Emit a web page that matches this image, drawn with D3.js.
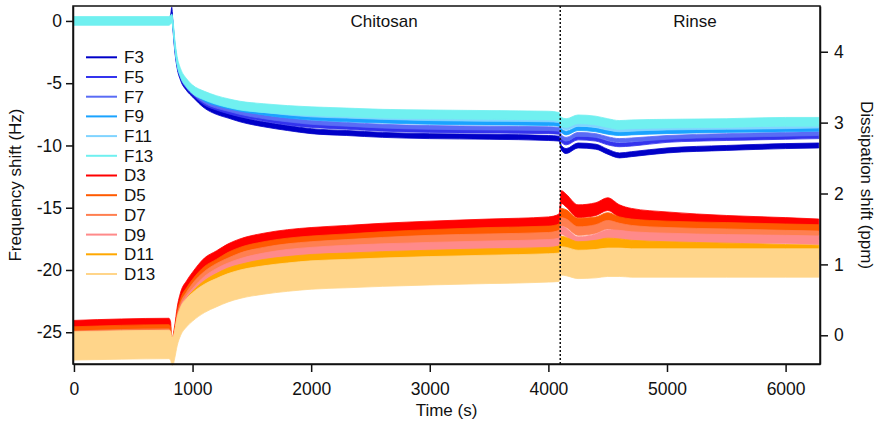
<!DOCTYPE html>
<html>
<head>
<meta charset="utf-8">
<script src="https://cdn.jsdelivr.net/npm/d3@7"></script>
<style>
  body { margin: 0; background: #fff; }
  svg text { font-family: "Liberation Sans", Arial, sans-serif; font-size: 17px; fill: #111; }
  svg .tick text { font-size: 17.5px; }
</style>
</head>
<body>
<div class="chart"></div>
<script>
var time = [0, 800, 815, 825, 835, 850, 870, 900, 950, 1000, 1100, 1200, 1300, 1400, 1600, 1800, 2000,
  2300, 2600, 3000, 3500, 4000, 4090, 4110, 4150, 4250, 4400, 4500, 4600, 4700, 5000, 5500, 6000, 6280];

// frequency shifts (Hz), left axis
var f3 = [0, 0, 0.3, 0.9, -0.5, -2.2, -3.6, -4.6, -5.4, -5.9, -6.8, -7.3, -7.6, -7.9, -8.3, -8.6, -8.85,
  -9.0, -9.15, -9.25, -9.3, -9.4, -9.45, -10.2, -10.45, -10.0, -10.1, -10.5, -10.8, -10.7, -10.4, -10.2, -10.05, -10.0];
var f5 = [0, 0, 0.1, 0.4, -0.4, -2.1, -3.5, -4.5, -5.3, -5.8, -6.6, -7.0, -7.3, -7.55, -7.9, -8.2, -8.4,
  -8.55, -8.7, -8.8, -8.85, -8.9, -8.95, -9.6, -9.8, -9.4, -9.5, -9.8, -9.95, -9.9, -9.6, -9.45, -9.35, -9.3];
var f7 = [0, 0, 0.1, 0.3, -0.4, -2.0, -3.4, -4.4, -5.2, -5.7, -6.45, -6.85, -7.1, -7.35, -7.7, -7.95, -8.15,
  -8.3, -8.45, -8.55, -8.6, -8.65, -8.7, -9.3, -9.5, -9.1, -9.2, -9.45, -9.6, -9.55, -9.35, -9.2, -9.1, -9.05];
var f9 = [0, 0, 0.1, 0.3, -0.3, -1.9, -3.3, -4.3, -5.1, -5.6, -6.3, -6.65, -6.9, -7.1, -7.4, -7.65, -7.8,
  -7.95, -8.05, -8.15, -8.2, -8.25, -8.3, -8.8, -9.0, -8.65, -8.75, -8.95, -9.05, -9.0, -8.9, -8.8, -8.75, -8.7];
var f11 = [0, 0, 0.1, 0.2, -0.3, -1.85, -3.25, -4.25, -5.05, -5.55, -6.15, -6.5, -6.75, -6.95, -7.2, -7.4, -7.55,
  -7.65, -7.75, -7.85, -7.9, -7.95, -8.0, -8.45, -8.6, -8.3, -8.4, -8.6, -8.75, -8.7, -8.6, -8.55, -8.5, -8.45];
var f13 = [0, 0, 0.1, 0.2, -0.3, -1.8, -3.2, -4.2, -5.0, -5.5, -6.0, -6.35, -6.6, -6.8, -7.0, -7.15, -7.25,
  -7.35, -7.45, -7.5, -7.55, -7.6, -7.7, -8.1, -8.2, -7.9, -8.0, -8.2, -8.35, -8.3, -8.25, -8.2, -8.1, -8.1];

// dissipation shifts (ppm), right axis
var d3v = [0.12, 0.15, 0.1, -0.2, -0.1, 0.05, 0.3, 0.52, 0.68, 0.8, 1.0, 1.1, 1.2, 1.27, 1.35, 1.4, 1.43,
  1.46, 1.49, 1.52, 1.55, 1.58, 1.62, 1.95, 1.9, 1.75, 1.78, 1.85, 1.75, 1.7, 1.65, 1.6, 1.57, 1.55];
var d5 = [0.05, 0.08, 0.05, -0.15, -0.1, 0.02, 0.25, 0.45, 0.6, 0.72, 0.9, 1.0, 1.1, 1.17, 1.25, 1.3, 1.33,
  1.36, 1.39, 1.42, 1.45, 1.47, 1.5, 1.72, 1.7, 1.58, 1.6, 1.66, 1.6, 1.57, 1.54, 1.52, 1.5, 1.49];
var d7 = [0.0, 0.03, 0.0, -0.15, -0.12, 0.0, 0.22, 0.4, 0.55, 0.67, 0.84, 0.95, 1.03, 1.1, 1.18, 1.23, 1.26,
  1.29, 1.32, 1.35, 1.37, 1.39, 1.42, 1.6, 1.58, 1.47, 1.5, 1.56, 1.52, 1.49, 1.46, 1.44, 1.42, 1.41];
var d9 = [-0.05, -0.02, -0.05, -0.18, -0.15, -0.03, 0.18, 0.35, 0.5, 0.6, 0.77, 0.88, 0.96, 1.02, 1.1, 1.15, 1.18,
  1.21, 1.23, 1.25, 1.27, 1.29, 1.31, 1.48, 1.45, 1.33, 1.37, 1.43, 1.42, 1.4, 1.38, 1.36, 1.35, 1.34];
var d11 = [-0.1, -0.08, -0.1, -0.2, -0.18, -0.08, 0.12, 0.28, 0.42, 0.52, 0.67, 0.77, 0.85, 0.9, 0.97, 1.01, 1.04,
  1.06, 1.08, 1.1, 1.12, 1.14, 1.16, 1.3, 1.28, 1.22, 1.24, 1.27, 1.26, 1.24, 1.22, 1.2, 1.18, 1.17];
var d13 = [-0.15, -0.13, -0.15, -0.22, -0.22, -0.12, 0.05, 0.2, 0.32, 0.4, 0.52, 0.6, 0.67, 0.72, 0.78, 0.82, 0.85,
  0.87, 0.89, 0.91, 0.93, 0.95, 0.96, 1.05, 1.04, 1.0, 1.01, 1.03, 1.03, 1.02, 1.02, 1.02, 1.02, 1.02];

var freqNames = ["F3", "F5", "F7", "F9", "F11", "F13"];
var dissNames = ["D3", "D5", "D7", "D9", "D11", "D13"];
var freqValues = [f3, f5, f7, f9, f11, f13];
var dissValues = [d3v, d5, d7, d9, d11, d13];
// half width of the noise band of each trace
var freqNoise = [0.2, 0.15, 0.15, 0.15, 0.15, 0.35];
var dissNoise = [0.09, 0.07, 0.06, 0.06, 0.1, 0.2];

var freqColors = ["#0000c8", "#3434ee", "#5a6cf5", "#1aa3ff", "#80d4ff", "#70f0f0"];
var dissColors = ["#ff0000", "#ff5a00", "#ff7f50", "#ff8a8a", "#ffa800", "#ffd58a"];

var xTicks = [0, 1000, 2000, 3000, 4000, 5000, 6000];
var freqTicks = [0, -5, -10, -15, -20, -25];
var dissTicks = [0, 1, 2, 3, 4];
var rinseStart = 4100;
var phaseNames = ["Chitosan", "Rinse"];
var phaseLabelAt = [2615, 5235];

var svgWidth = 879;
var svgHeight = 424;
var plot = { left: 73, right: 820, top: 6, bottom: 364 };

var svg = d3.select(".chart")
  .append("svg")
  .attr("width", svgWidth)
  .attr("height", svgHeight);

var x = d3.scaleLinear().domain([-8, 6290]).range([plot.left, plot.right]);
var yF = d3.scaleLinear().domain([-27.55, 1.2]).range([plot.bottom, plot.top]);
var yD = d3.scaleLinear().domain([-0.405, 4.645]).range([plot.bottom, plot.top]);

var series = [];
freqNames.forEach(function (n, i) {
  series.push({ name: n, values: freqValues[i], noise: freqNoise[i], color: freqColors[i], y: yF });
});
dissNames.forEach(function (n, i) {
  series.push({ name: n, values: dissValues[i], noise: dissNoise[i], color: dissColors[i], y: yD });
});

var dataGroup = svg.append("g");
series.forEach(function (s) {
  var pts = time.map(function (t, i) { return { t: t, v: s.values[i] }; });
  var band = d3.area()
    .x(d => x(d.t))
    .y0(d => s.y(d.v - s.noise))
    .y1(d => s.y(d.v + s.noise))
    .curve(d3.curveMonotoneX);
  dataGroup.append("path")
    .datum(pts)
    .attr("d", band)
    .attr("fill", s.color)
    .attr("stroke", s.color)
    .attr("stroke-width", 0.8);
});

// rinse marker
svg.append("line")
  .attr("x1", x(rinseStart)).attr("x2", x(rinseStart))
  .attr("y1", plot.top).attr("y2", plot.bottom)
  .attr("stroke", "#111")
  .attr("stroke-width", 1.5)
  .attr("stroke-dasharray", "2,2");

svg.selectAll(".phase")
  .data(phaseNames)
  .enter()
  .append("text")
  .attr("class", "phase")
  .attr("x", (d, i) => x(phaseLabelAt[i]))
  .attr("y", 27)
  .attr("text-anchor", "middle")
  .text(d => d);

// frame
svg.append("rect")
  .attr("x", plot.left).attr("y", plot.top)
  .attr("width", plot.right - plot.left)
  .attr("height", plot.bottom - plot.top)
  .attr("fill", "none")
  .attr("stroke", "#111")
  .attr("stroke-width", 1.5);

var plain = d => String(d);
var bottomAxis = d3.axisBottom(x).tickValues(xTicks).tickFormat(plain)
  .tickSize(8).tickPadding(11).tickSizeOuter(0);
var leftAxis = d3.axisLeft(yF).tickValues(freqTicks).tickFormat(plain)
  .tickSize(7).tickPadding(4).tickSizeOuter(0);
var rightAxis = d3.axisRight(yD).tickValues(dissTicks).tickFormat(plain)
  .tickSize(8).tickPadding(6).tickSizeOuter(0);

svg.append("g").attr("transform", `translate(0, ${plot.bottom})`).call(bottomAxis);
svg.append("g").attr("transform", `translate(${plot.left}, 0)`).call(leftAxis);
svg.append("g").attr("transform", `translate(${plot.right}, 0)`).call(rightAxis);
svg.selectAll(".domain").attr("stroke", "#111").attr("stroke-width", 1.5);
svg.selectAll(".tick line").attr("stroke", "#111").attr("stroke-width", 1.5);

// axis titles
svg.append("text")
  .attr("x", (plot.left + plot.right) / 2)
  .attr("y", 416)
  .attr("text-anchor", "middle")
  .text("Time (s)");

svg.append("text")
  .attr("transform", `translate(21, ${(plot.top + plot.bottom) / 2}) rotate(-90)`)
  .attr("text-anchor", "middle")
  .text("Frequency shift (Hz)");

svg.append("text")
  .attr("transform", `translate(861, ${(plot.top + plot.bottom) / 2}) rotate(90)`)
  .attr("text-anchor", "middle")
  .text("Dissipation shift (ppm)");

// legend
var legend = svg.append("g");
var legendItems = legend.selectAll("g")
  .data(series)
  .enter()
  .append("g")
  .attr("transform", (d, i) => `translate(86, ${57.3 + i * 19.7})`);

legendItems.append("line")
  .attr("x1", 0).attr("x2", 31)
  .attr("stroke", d => d.color)
  .attr("stroke-width", 2);

legendItems.append("text")
  .attr("x", 38)
  .attr("dy", "0.35em")
  .text(d => d.name);
</script>
</body>
</html>
